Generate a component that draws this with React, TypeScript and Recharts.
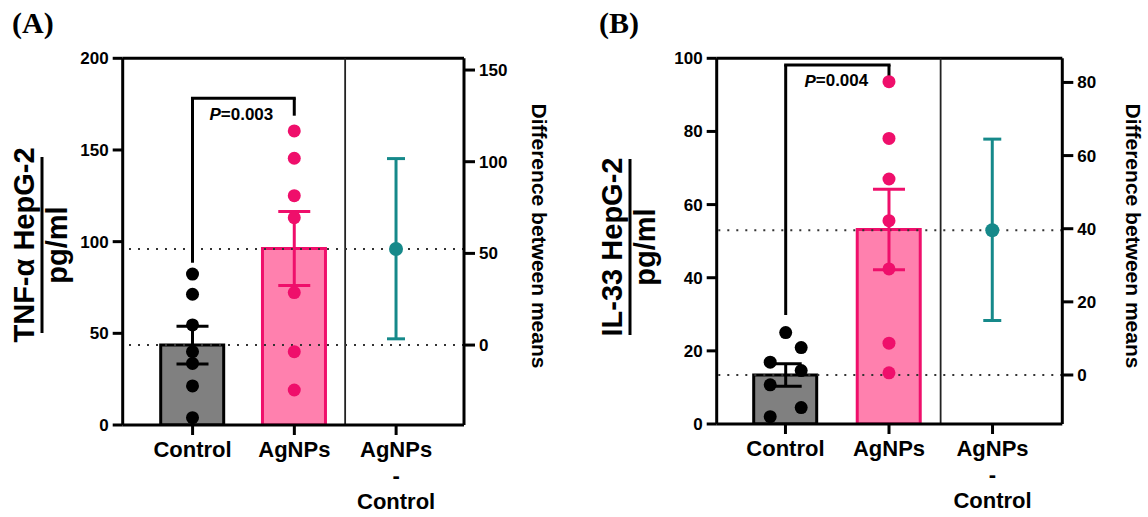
import React from 'react';
import { ComposedChart, Bar, Cell, Scatter, ErrorBar, XAxis, YAxis, ReferenceLine, ReferenceDot } from 'recharts';

const groups = ['Control', 'AgNPs', 'AgNPs\n-\nControl'];

// (A) TNF-α, pg/ml
const tnfMeans = [43.6, 96.3];
const tnfSem = [10.3, 20.2];
const tnfControl = [82.3, 71.3, 54.6, 40.0, 33.6, 21.3, 4.0];
const tnfAgnps = [160.4, 145.5, 125.1, 113.1, 72.2, 40.0, 19.1];
const tnfDiff = 52.4;
const tnfDiffCi = [3.4, 101.7];
const tnfBracket = [88.5, 178.2, 168.7];
const tnfTicks = [0, 50, 100, 150, 200];
const tnfDiffTicks = [0, 50, 100, 150];

// (B) IL-33, pg/ml
const ilMeans = [13.4, 53.2];
const ilSem = [3.1, 11.0];
const ilControl = [25.0, 20.9, 16.9, 14.6, 10.7, 4.5, 2.0];
const ilControlJitter = [0, 0.15, -0.15, 0.15, -0.15, 0.15, -0.15];
const ilAgnps = [93.6, 78.1, 67.0, 55.6, 42.4, 22.1, 14.0];
const ilDiff = 39.6;
const ilDiffCi = [14.9, 64.5];
const ilBracket = [29.8, 98.2, 94.5];
const ilTicks = [0, 20, 40, 60, 80, 100];
const ilDiffTicks = [0, 20, 40, 60, 80];

const FONT = '"Liberation Sans", Arial, sans-serif';
const PINK = '#ef0f6b';
const PINK_FILL = '#ff80ae';
const TEAL = '#16898a';
const W = 574;
const H = 517;

const GroupTick = (props: any) => {
  const { x, y, payload } = props;
  const lines = String(payload.value).split('\n');
  return (
    <text x={x} y={y + 20} textAnchor="middle" fontFamily={FONT} fontWeight="bold" fontSize={22} fill="#000">
      {lines.map((l, i) => (
        <tspan key={i} x={x} dy={i === 0 ? 0 : 26}>{l}</tspan>
      ))}
    </text>
  );
};

const dot = (color: string, r: number) => (p: any) => <circle cx={p.cx} cy={p.cy} r={r} fill={color} />;
const none = () => <g />;

function Panel(cfg: any) {
  const barData = groups.map((g, i) => ({ name: g, mean: i < 2 ? cfg.means[i] : null }));
  const ctrlPts = cfg.control.map((v: number, i: number) => ({ x: cfg.jitter ? cfg.jitter[i] : 0, y: v }));
  const agPts = cfg.agnps.map((v: number) => ({ x: 1, y: v }));
  const ctrlSem = [{ x: 0, y: cfg.means[0], err: cfg.sem[0] }];
  const agSem = [{ x: 1, y: cfg.means[1], err: cfg.sem[1] }];
  const diffPt = [{ x: 2, y: cfg.diff, err: [cfg.diff - cfg.ci[0], cfg.ci[1] - cfg.diff] }];
  const [legL, top, legR] = cfg.bracket;
  const tickStyle = { fontFamily: FONT, fontWeight: 'bold', fontSize: 17, fill: '#000' };
  const axisLine = { stroke: '#000', strokeWidth: 3 };
  const fills = ['#808080', PINK_FILL];
  const strokes = ['#000', PINK];

  return (
    <ComposedChart width={W} height={H} data={barData} margin={cfg.margin}>
      <XAxis xAxisId="c" dataKey="name" type="category" padding={cfg.pad} height={60} interval={0}
        tick={<GroupTick />} tickSize={10} tickLine={axisLine} axisLine={axisLine} />
      <XAxis xAxisId="n" dataKey="x" type="number" domain={cfg.xDomain} allowDataOverflow hide />
      <YAxis yAxisId="l" domain={[0, cfg.ticks[cfg.ticks.length - 1]]} ticks={cfg.ticks} allowDataOverflow width={60}
        tick={tickStyle} tickSize={10} tickMargin={4} tickLine={axisLine} axisLine={axisLine} />
      <YAxis yAxisId="r" orientation="right" domain={cfg.rDomain} ticks={cfg.rTicks} allowDataOverflow width={60}
        tick={tickStyle} tickSize={11} tickMargin={4} tickLine={axisLine} axisLine={axisLine} />

      <Bar xAxisId="c" yAxisId="l" dataKey="mean" barSize={63} isAnimationActive={false}>
        {barData.map((_, i) => (
          <Cell key={i} fill={fills[i] || 'none'} stroke={strokes[i] || 'none'} strokeWidth={3} />
        ))}
      </Bar>

      <ReferenceLine xAxisId="n" yAxisId="l" y={cfg.ticks[cfg.ticks.length - 1]} stroke="#000" strokeWidth={3} />
      <ReferenceLine xAxisId="n" yAxisId="l" x={1.5} stroke="#222" strokeWidth={1.8} />
      <ReferenceLine xAxisId="n" yAxisId="r" y={0} stroke="#333" strokeWidth={2} strokeDasharray="2 7" />
      <ReferenceLine xAxisId="n" yAxisId="r" y={cfg.diff} stroke="#333" strokeWidth={2} strokeDasharray="2 7" />

      <ReferenceLine xAxisId="n" yAxisId="l" segment={[{ x: 0, y: legL }, { x: 0, y: top }]} stroke="#000" strokeWidth={3} />
      <ReferenceLine xAxisId="n" yAxisId="l" segment={[{ x: -0.015, y: top }, { x: 1.015, y: top }]} stroke="#000" strokeWidth={3} />
      <ReferenceLine xAxisId="n" yAxisId="l" segment={[{ x: 1, y: top }, { x: 1, y: legR }]} stroke="#000" strokeWidth={3} />
      <ReferenceDot xAxisId="n" yAxisId="l" x={cfg.pPos[0]} y={cfg.pPos[1]} r={0}
        shape={(p: any) => (
          <text x={p.cx} y={p.cy} textAnchor="middle" dominantBaseline="central" fontFamily={FONT} fontWeight="bold" fontSize={17} fill="#000">
            <tspan fontStyle="italic">P</tspan>={cfg.pValue}
          </text>
        )} />

      <Scatter xAxisId="n" yAxisId="l" data={ctrlPts} dataKey="y" shape={dot('#000', 6.5)} isAnimationActive={false} />
      <Scatter xAxisId="n" yAxisId="l" data={agPts} dataKey="y" shape={dot(PINK, 6.5)} isAnimationActive={false} />
      <Scatter xAxisId="n" yAxisId="l" data={ctrlSem} dataKey="y" shape={none} isAnimationActive={false}>
        <ErrorBar dataKey="err" direction="y" width={16} stroke="#000" strokeWidth={3} />
      </Scatter>
      <Scatter xAxisId="n" yAxisId="l" data={agSem} dataKey="y" shape={none} isAnimationActive={false}>
        <ErrorBar dataKey="err" direction="y" width={16} stroke={PINK} strokeWidth={3} />
      </Scatter>
      <Scatter xAxisId="n" yAxisId="r" data={diffPt} dataKey="y" shape={dot(TEAL, 7)} isAnimationActive={false}>
        <ErrorBar dataKey="err" direction="y" width={9} stroke={TEAL} strokeWidth={3} />
      </Scatter>
    </ComposedChart>
  );
}

const YLabel = ({ top, bottom, bx, cy }: any) => (
  <g fontFamily={FONT} fontWeight="bold" fill="#000">
    <text transform={`translate(${bx},${cy}) rotate(-90)`} textAnchor="middle" fontSize={29}>{top}</text>
    <line x1={bx + 8} x2={bx + 8} y1={cy - 88} y2={cy + 88} stroke="#000" strokeWidth={3} />
    <text transform={`translate(${bx + 33},${cy}) rotate(-90)`} textAnchor="middle" fontSize={29}>{bottom}</text>
  </g>
);

const RLabel = ({ x, cy }: any) => (
  <text transform={`translate(${x},${cy}) rotate(90)`} textAnchor="middle" fontFamily={FONT} fontWeight="bold" fontSize={21} fill="#000">
    Difference between means
  </text>
);

export default function App() {
  return (
    <div style={{ position: 'absolute', left: 0, top: 0, width: 1148, height: 517, background: '#fff' }}>
      <div style={{ position: 'absolute', left: 0, top: 0 }}>
        <Panel means={tnfMeans} sem={tnfSem} control={tnfControl} agnps={tnfAgnps} diff={tnfDiff} ci={tnfDiffCi}
          bracket={tnfBracket} ticks={tnfTicks} rTicks={tnfDiffTicks} rDomain={[-tnfMeans[0], 200 - tnfMeans[0]]}
          pValue="0.003" pPos={[0.48, 169.5]}
          margin={{ top: 58.3, right: 50, bottom: 32, left: 62.7 }} pad={{ left: 19, right: 17 }} xDomain={[-0.686, 2.668]} />
      </div>
      <div style={{ position: 'absolute', left: W, top: 0 }}>
        <Panel means={ilMeans} sem={ilSem} control={ilControl} jitter={ilControlJitter} agnps={ilAgnps} diff={ilDiff} ci={ilDiffCi}
          bracket={ilBracket} ticks={ilTicks} rTicks={ilDiffTicks} rDomain={[-ilMeans[0], 100 - ilMeans[0]]}
          pValue="0.004" pPos={[0.49, 93.8]}
          margin={{ top: 58.3, right: 25.7, bottom: 33, left: 82.7 }} pad={{ left: 17, right: 18 }} xDomain={[-0.668, 2.678]} />
      </div>
      <svg width={1148} height={517} style={{ position: 'absolute', left: 0, top: 0, pointerEvents: 'none' }}>
        <text x={12} y={33} fontFamily='"Liberation Serif", "Times New Roman", serif' fontWeight="bold" fontSize={30}>(A)</text>
        <text x={599} y={33} fontFamily='"Liberation Serif", "Times New Roman", serif' fontWeight="bold" fontSize={30}>(B)</text>
        <YLabel top="TNF-α HepG-2" bottom="pg/ml" bx={34} cy={245} />
        <YLabel top="IL-33 HepG-2" bottom="pg/ml" bx={622} cy={247} />
        <RLabel x={532} cy={236} />
        <RLabel x={1126} cy={236} />
      </svg>
    </div>
  );
}
